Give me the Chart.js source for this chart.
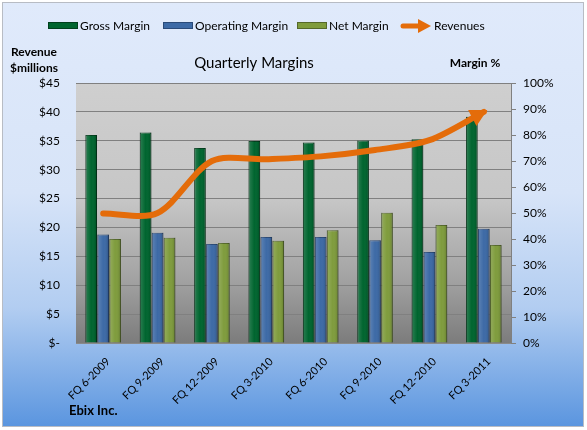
<!DOCTYPE html>
<html>
<head>
<meta charset="utf-8">
<script src="https://cdn.jsdelivr.net/npm/chart.js@4.4.0/dist/chart.umd.min.js"></script>
<style>
  html, body { margin: 0; padding: 0; background: #fff; }
  canvas { display: block; }
</style>
</head>
<body>
<canvas id="marginChart" width="587" height="430"></canvas>
<script>
// quarterly data
const quarters = ['FQ 6-2009', 'FQ 9-2009', 'FQ 12-2009', 'FQ 3-2010', 'FQ 6-2010', 'FQ 9-2010', 'FQ 12-2010', 'FQ 3-2011'];
const grossMargin = [80.0, 81.0, 75.0, 77.7, 77.1, 77.9, 78.4, 87.0];
const operatingMargin = [41.7, 42.4, 38.1, 40.8, 40.8, 39.5, 35.0, 43.9];
const netMargin = [40.0, 40.5, 38.5, 39.3, 43.4, 50.1, 45.4, 37.7];
const revenues = [22.4, 22.5, 31.5, 31.8, 32.3, 33.4, 35.1, 40.0];

const revenueTicks = ['$-', '$5', '$10', '$15', '$20', '$25', '$30', '$35', '$40', '$45'];
const marginTicks = ['0%', '10%', '20%', '30%', '40%', '50%', '60%', '70%', '80%', '90%', '100%'];

const FONT = 'Lato, "Liberation Sans", sans-serif';
const ORANGE = '#e46c0a';

// frame + plot area backgrounds
const backgroundPlugin = {
    id: 'backgrounds',
    beforeDraw(chart) {
        const ctx = chart.ctx;
        const area = chart.chartArea;
        ctx.save();
        ctx.fillStyle = '#ffffff';
        ctx.fillRect(0, 0, chart.width, chart.height);

        const bg = ctx.createLinearGradient(0, 2, 0, 427);
        bg.addColorStop(0, '#e0eafb');
        bg.addColorStop(0.45, '#d7e4f8');
        bg.addColorStop(0.72, '#b2cdf1');
        bg.addColorStop(1, '#5a95df');
        ctx.fillStyle = bg;
        ctx.fillRect(2, 2, 582, 425);
        ctx.strokeStyle = '#b8bcc4';
        ctx.lineWidth = 1;
        ctx.strokeRect(2.5, 2.5, 581, 424);

        const pg = ctx.createLinearGradient(0, area.top, 0, area.bottom);
        pg.addColorStop(0, '#cfcfcf');
        pg.addColorStop(0.45, '#c6c6c6');
        pg.addColorStop(0.75, '#a3a3a3');
        pg.addColorStop(1, '#7c7c7c');
        ctx.fillStyle = pg;
        ctx.fillRect(area.left, area.top, area.right - area.left, area.bottom - area.top);
        ctx.restore();
    }
};

// bevel-ish shading on each bar
const barShadePlugin = {
    id: 'barShade',
    afterDatasetDraw(chart, args) {
        if (args.meta.type !== 'bar') return;
        const ctx = chart.ctx;
        ctx.save();
        args.meta.data.forEach(el => {
            const p = el.getProps(['x', 'y', 'base', 'width'], true);
            const left = p.x - p.width / 2;
            const g = ctx.createLinearGradient(left, 0, left + p.width, 0);
            g.addColorStop(0, 'rgba(0,0,0,0.30)');
            g.addColorStop(0.15, 'rgba(255,255,255,0.12)');
            g.addColorStop(0.5, 'rgba(255,255,255,0)');
            g.addColorStop(0.85, 'rgba(0,0,0,0.08)');
            g.addColorStop(1, 'rgba(0,0,0,0.30)');
            ctx.fillStyle = g;
            ctx.fillRect(left, p.y, p.width, p.base - p.y);
        });
        ctx.restore();
    }
};

// arrowhead at the end of the revenue line
const arrowPlugin = {
    id: 'revenueArrow',
    afterDatasetsDraw(chart) {
        const meta = chart.getDatasetMeta(0);
        const pts = meta.data;
        const last = pts[pts.length - 1];
        let dx = last.x - last.cp1x;
        let dy = last.y - last.cp1y;
        const len = Math.hypot(dx, dy) || 1;
        dx /= len; dy /= len;
        const tipX = last.x + dx * 4;
        const tipY = last.y + dy * 4;
        const L = 17, W = 9;
        const bx = tipX - dx * L, by = tipY - dy * L;
        const ctx = chart.ctx;
        ctx.save();
        ctx.fillStyle = ORANGE;
        ctx.beginPath();
        ctx.moveTo(tipX, tipY);
        ctx.lineTo(bx - dy * W, by + dx * W);
        ctx.lineTo(bx + dy * W, by - dx * W);
        ctx.closePath();
        ctx.fill();
        ctx.restore();
    }
};

// legend, titles and labels
const textPlugin = {
    id: 'texts',
    afterDraw(chart) {
        const ctx = chart.ctx;
        ctx.save();
        ctx.textBaseline = 'middle';

        // legend
        const boxes = [
            { x: 48, fill: '#00652f', line: '#003f1c', label: 'Gross Margin' },
            { x: 163, fill: '#3d6aa6', line: '#2a4a78', label: 'Operating Margin' },
            { x: 297, fill: '#7f9c3d', line: '#55692a', label: 'Net Margin' }
        ];
        ctx.font = '12px ' + FONT;
        ctx.fillStyle = '#000';
        boxes.forEach(b => {
            ctx.fillStyle = b.fill;
            ctx.fillRect(b.x, 23, 30, 6);
            ctx.strokeStyle = b.line;
            ctx.lineWidth = 1;
            ctx.strokeRect(b.x + 0.5, 22.5, 29, 6);
            ctx.fillStyle = '#000';
            ctx.fillText(b.label, b.x + 32, 26);
        });
        ctx.strokeStyle = ORANGE;
        ctx.lineWidth = 5;
        ctx.lineCap = 'round';
        ctx.beginPath();
        ctx.moveTo(403, 26);
        ctx.lineTo(420, 26);
        ctx.stroke();
        ctx.fillStyle = ORANGE;
        ctx.beginPath();
        ctx.moveTo(431, 26);
        ctx.lineTo(418, 19);
        ctx.lineTo(418, 33);
        ctx.closePath();
        ctx.fill();
        ctx.fillStyle = '#000';
        ctx.fillText('Revenues', 434, 26);

        // chart title
        ctx.textAlign = 'center';
        ctx.font = '15px ' + FONT;
        ctx.fillText('Quarterly Margins', 254, 63);

        // axis titles
        ctx.font = 'bold 12px ' + FONT;
        ctx.fillText('Revenue', 34, 52);
        ctx.fillText('$millions', 34, 68);
        ctx.fillText('Margin %', 475, 63);

        ctx.textAlign = 'left';
        ctx.font = 'bold 13px ' + FONT;
        ctx.fillText('Ebix Inc.', 69, 411);
        ctx.restore();
    }
};

const ctx = document.getElementById('marginChart').getContext('2d');
const marginChart = new Chart(ctx, {
    data: {
        labels: quarters,
        datasets: [
            {
                type: 'line',
                label: 'Revenues',
                data: revenues,
                yAxisID: 'y',
                borderColor: ORANGE,
                borderWidth: 6,
                borderCapStyle: 'round',
                tension: 0.3,
                pointRadius: 0,
                fill: false,
                order: 0
            },
            {
                type: 'bar',
                label: 'Gross Margin',
                data: grossMargin,
                yAxisID: 'y1',
                backgroundColor: '#00652f',
                borderColor: '#003f1c',
                borderWidth: 1,
                order: 1
            },
            {
                type: 'bar',
                label: 'Operating Margin',
                data: operatingMargin,
                yAxisID: 'y1',
                backgroundColor: '#3d6aa6',
                borderColor: '#2a4a78',
                borderWidth: 1,
                order: 1
            },
            {
                type: 'bar',
                label: 'Net Margin',
                data: netMargin,
                yAxisID: 'y1',
                backgroundColor: '#7f9c3d',
                borderColor: '#55692a',
                borderWidth: 1,
                order: 1
            }
        ]
    },
    options: {
        responsive: false,
        animation: false,
        devicePixelRatio: 1,
        layout: { padding: { top: 83, left: 0, right: 0, bottom: 0 } },
        datasets: {
            bar: { categoryPercentage: 0.66, barPercentage: 0.97 }
        },
        plugins: {
            legend: { display: false },
            title: { display: false },
            tooltip: { enabled: false }
        },
        scales: {
            x: {
                offset: true,
                grid: { display: false },
                border: { display: true, color: '#8a8a8a' },
                ticks: {
                    autoSkip: false,
                    minRotation: 45,
                    maxRotation: 45,
                    padding: 4,
                    labelOffset: 5,
                    color: '#000',
                    font: { family: FONT, size: 11 }
                },
                afterFit(scale) { scale.height = 87; }
            },
            y: {
                position: 'left',
                min: 0,
                max: 45,
                ticks: {
                    stepSize: 5,
                    padding: 16,
                    color: '#000',
                    font: { family: FONT, size: 12 },
                    callback: (value, index) => revenueTicks[index]
                },
                grid: { color: '#808080', lineWidth: 1, drawTicks: false },
                border: { display: false },
                afterFit(scale) { scale.width = 76; }
            },
            y1: {
                position: 'right',
                min: 0,
                max: 100,
                ticks: {
                    stepSize: 10,
                    padding: 7,
                    color: '#000',
                    font: { family: FONT, size: 12 },
                    callback: (value, index) => marginTicks[index]
                },
                grid: { drawOnChartArea: false, tickLength: 5, color: '#808080' },
                border: { display: true, color: '#808080' },
                afterFit(scale) { scale.width = 76; }
            }
        }
    },
    plugins: [backgroundPlugin, barShadePlugin, arrowPlugin, textPlugin]
});
</script>
</body>
</html>
